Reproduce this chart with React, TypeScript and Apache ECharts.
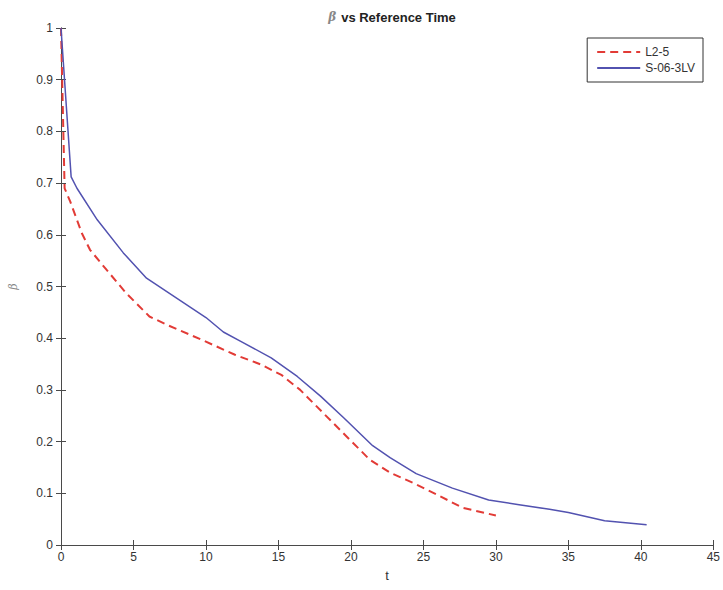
import React, { useEffect, useRef } from "react";
import * as echarts from "echarts";

const titleText = "vs Reference Time";
const seriesNames = ["L2-5", "S-06-3LV"];
const xTicks = [0, 5, 10, 15, 20, 25, 30, 35, 40, 45];
const yTicks = [0, 0.1, 0.2, 0.3, 0.4, 0.5, 0.6, 0.7, 0.8, 0.9, 1];

const l25T = [0, 0.25, 0.64, 1.44, 2.0, 3.15, 4.5, 6.1, 7.3, 9.7, 12.0, 13.8, 15.2, 16.5, 18.1, 19.7, 21.3, 22.7, 24.3, 25.9, 27.7, 30.0];
const l25B = [1, 0.69, 0.664, 0.603, 0.571, 0.532, 0.487, 0.442, 0.426, 0.397, 0.368, 0.349, 0.329, 0.3, 0.255, 0.21, 0.165, 0.14, 0.12, 0.098, 0.072, 0.057];

const s06T = [0, 0.7, 1.1, 2.5, 4.3, 5.9, 7.3, 10.0, 11.2, 12.4, 14.5, 16.3, 17.9, 19.5, 21.5, 22.7, 24.5, 27.0, 29.5, 31.6, 33.7, 35.0, 37.5, 40.4];
const s06B = [1, 0.712, 0.69, 0.629, 0.565, 0.516, 0.49, 0.44, 0.412, 0.394, 0.362, 0.326, 0.288, 0.246, 0.192, 0.169, 0.138, 0.11, 0.087, 0.078, 0.069, 0.063, 0.047, 0.039];

const zip = (a: number[], b: number[]) => a.map((v, i) => [v, b[i]]);

export default function App() {
  const ref = useRef<HTMLDivElement>(null);
  useEffect(() => {
    if (!ref.current) return;
    const chart = echarts.init(ref.current, null, { renderer: "svg" });
    const font = "'Liberation Sans', Arial, sans-serif";
    const axisColor = "#4a4a4a";
    const common = {
      axisLine: { show: true, lineStyle: { color: axisColor, width: 1 } },
      axisTick: { show: true, inside: true, length: 5, lineStyle: { color: axisColor } },
      splitLine: { show: false },
    };
    chart.setOption({
      animation: false,
      backgroundColor: "#ffffff",
      title: {
        text: "{b|β} {t|" + titleText + "}",
        left: 387,
        top: 3,
        textAlign: "center",
        textStyle: {
          rich: {
            b: { fontFamily: "'DejaVu Serif', serif", fontStyle: "italic", fontSize: 12, color: "#888" },
            t: { fontFamily: font, fontWeight: "bold", fontSize: 13, color: "#222" },
          },
        },
      },
      legend: {
        right: 20,
        top: 38,
        orient: "vertical",
        backgroundColor: "#fff",
        borderColor: "#333",
        borderWidth: 1,
        borderRadius: 0,
        padding: [8, 8, 8, 9],
        itemWidth: 43,
        itemHeight: 12,
        itemGap: 4,
        itemStyle: { opacity: 0 },
        textStyle: { fontFamily: font, fontSize: 12, color: "#333" },
        data: seriesNames,
      },
      grid: { left: 59, right: 8, top: 28, bottom: 45 },
      xAxis: [
        {
          type: "value",
          min: xTicks[0],
          max: xTicks[xTicks.length - 1],
          interval: 5,
          name: "t",
          nameLocation: "middle",
          nameGap: 24,
          nameTextStyle: { fontFamily: font, fontSize: 13, color: "#333" },
          axisLabel: { fontFamily: font, fontSize: 12, color: "#333", margin: 6 },
          ...common,
        },
        {
          type: "value",
          position: "top",
          min: xTicks[0],
          max: xTicks[xTicks.length - 1],
          interval: 5,
          axisLabel: { show: false },
          ...common,
        },
      ],
      yAxis: [
        {
          type: "value",
          min: yTicks[0],
          max: yTicks[yTicks.length - 1],
          interval: 0.1,
          name: "β",
          nameLocation: "middle",
          nameGap: 42,
          nameRotate: 90,
          nameTextStyle: { fontFamily: "'DejaVu Serif', serif", fontStyle: "italic", fontSize: 11, color: "#888" },
          axisLabel: {
            fontFamily: font,
            fontSize: 12,
            color: "#333",
            margin: 8,
            formatter: (v: number) => String(parseFloat(v.toFixed(1))),
          },
          ...common,
        },
        {
          type: "value",
          position: "right",
          min: yTicks[0],
          max: yTicks[yTicks.length - 1],
          interval: 0.1,
          axisLabel: { show: false },
          ...common,
        },
      ],
      series: [
        {
          name: seriesNames[0],
          type: "line",
          data: zip(l25T, l25B),
          showSymbol: false,
          symbol: "none",
          lineStyle: { color: "#e23b36", width: 2, type: [8, 5] },
          itemStyle: { color: "#e23b36" },
          z: 3,
        },
        {
          name: seriesNames[1],
          type: "line",
          data: zip(s06T, s06B),
          showSymbol: false,
          symbol: "none",
          lineStyle: { color: "#5252b0", width: 1.5 },
          itemStyle: { color: "#5252b0" },
          z: 4,
        },
      ],
    });
    return () => chart.dispose();
  }, []);
  return <div ref={ref} style={{ position: "fixed", left: 0, top: 0, width: 723, height: 590 }} />;
}
